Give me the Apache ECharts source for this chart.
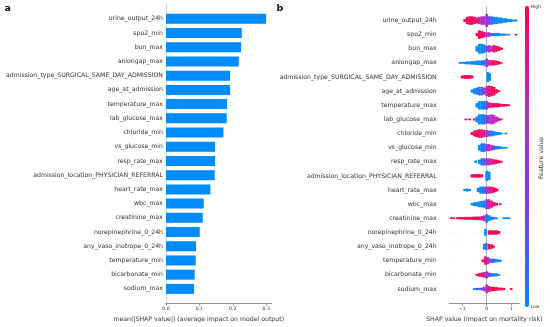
<!DOCTYPE html>
<html>
<head>
<meta charset="utf-8">
<script src="https://cdn.jsdelivr.net/npm/echarts@6/dist/echarts.min.js"></script>
<style>
html,body{margin:0;padding:0;background:#fff;}
#chart{width:550px;height:327px;}
</style>
</head>
<body>
<div id="chart"></div>
<script>
// ---------- data ----------
const features = [
  'urine_output_24h','spo2_min','bun_max','aniongap_max',
  'admission_type_SURGICAL_SAME_DAY_ADMISSION','age_at_admission','temperature_max',
  'lab_glucose_max','chloride_min','vs_glucose_min','resp_rate_max',
  'admission_location_PHYSICIAN_REFERRAL','heart_rate_max','wbc_max','creatinine_max',
  'norepinephrine_0_24h','any_vaso_inotrope_0_24h','temperature_min','bicarbonate_min','sodium_max'
];
const meanAbsShap = [0.300,0.227,0.225,0.218,0.192,0.192,0.183,0.182,0.172,0.147,0.147,0.146,0.133,0.113,0.110,0.101,0.090,0.089,0.086,0.084];
const barTicks = [0.0, 0.1, 0.2, 0.3];
const shapTicks = [-1, 0, 1];
// beeswarm bins per feature: [SHAP value, point density, feature value (0 low .. 1 high)]
const swarmBins = [
  [[-0.9,2,1],[-0.8,5,1],[-0.7,6,1],[-0.6,6,1],[-0.5,5,0.95],[-0.4,4,0.9],[-0.3,5,0.8],[-0.2,6,0.7],[-0.1,6,0.6],[0.0,9,0.5],[0.1,6,0.35],[0.2,6,0.15],[0.3,5,0.05],[0.4,5,0],[0.5,4,0],[0.6,4,0],[0.7,3,0],[0.8,3,0],[0.9,2,0],[1.0,2,0],[1.1,1,0],[1.2,1,0]],
  [[-0.4,2,1],[-0.3,6,1],[-0.2,5,0.95],[-0.1,4,0.9],[0.0,3,0.7],[0.1,3,0.4],[0.2,2,0.2],[0.3,2,0.1],[0.4,2,0],[0.5,2,0],[0.6,1.5,0],[0.7,1.5,0.2],[0.8,1,0],[0.9,1,0],[1.2,0.8,1]],
  [[-0.4,4,0],[-0.3,7,0],[-0.2,7,0],[-0.1,6,0.05],[0.0,4,0.4],[0.1,5,0.6],[0.2,4,0.7],[0.3,5,0.9],[0.4,4,1],[0.5,3,1],[0.6,1.5,1]],
  [[-1.1,1,0],[-1.0,1,0],[-0.9,1.5,0],[-0.8,2,0],[-0.7,2,0],[-0.6,2.5,0],[-0.5,2.5,0],[-0.4,3,0],[-0.3,3,0],[-0.2,3.5,0.05],[-0.1,4,0.1],[0.0,6,0.5],[0.1,4,0.75],[0.2,4,0.9],[0.3,3.5,1],[0.4,3,1],[0.5,2,1],[0.6,1,1]],
  [[-1.0,2,1],[-0.9,2.5,1],[-0.8,2.5,1],[-0.7,2.5,1],[-0.6,2,1],[0.05,7,0],[0.12,5,0]],
  [[-0.6,2,0],[-0.5,4,0],[-0.4,5,0.05],[-0.3,6,0.1],[-0.2,6,0.2],[-0.1,5,0.4],[0.0,7,0.7],[0.1,8,0.9],[0.2,7,0.95],[0.3,6,1],[0.4,3,1],[0.5,1,1]],
  [[-0.4,3,0],[-0.3,6,0],[-0.2,6,0],[-0.1,6,0.1],[0.0,6,0.4],[0.1,4,0.8],[0.2,3.5,0.9],[0.3,3,1],[0.4,3,1],[0.5,2.5,1],[0.6,2,1],[0.7,2,1],[0.8,1.5,1],[0.9,1,1]],
  [[-0.85,1,1],[-0.7,1,1],[-0.5,1.5,0.5],[-0.4,4,0.1],[-0.3,7,0],[-0.2,7,0],[-0.1,7,0.1],[0.0,6,0.4],[0.1,6,0.55],[0.2,7,0.6],[0.3,6,0.7],[0.4,4,0.75],[0.5,2,0.8],[0.6,1,0.8]],
  [[-0.6,2,1],[-0.5,4,1],[-0.4,5,1],[-0.3,6,0.95],[-0.2,6,0.9],[-0.1,5,0.8],[0.0,5,0.55],[0.1,4,0.3],[0.2,4,0.1],[0.3,3,0],[0.4,2.5,0],[0.5,2,0],[0.6,1,0],[0.78,0.8,0]],
  [[-0.3,4,0],[-0.2,6,0.05],[-0.1,6,0.1],[0.0,5,0.5],[0.1,5,0.7],[0.2,4,0.6],[0.3,3,0.3],[0.4,2.5,0.1],[0.5,2,0],[0.6,1.5,0],[0.7,1,0],[0.8,0.8,0]],
  [[-0.45,1.5,0],[-0.3,3,0],[-0.2,5,0.1],[-0.1,5,0.2],[0.0,5,0.5],[0.1,5,0.7],[0.2,4,0.8],[0.3,3.5,0.9],[0.4,3,1],[0.5,2,1],[0.6,1,1]],
  [[-0.6,2,1],[-0.5,2.5,1],[-0.4,2.5,1],[-0.3,2.5,1],[-0.2,2,1],[0.0,7,0],[0.1,6,0]],
  [[-0.9,1.5,0],[-0.8,2,0],[-0.7,1.5,0],[-0.35,3,0],[-0.25,5,0],[-0.15,5,0.05],[-0.05,5,0.3],[0.05,5,0.7],[0.15,5,0.85],[0.25,4,0.95],[0.35,3,1],[0.42,1.5,1]],
  [[-0.6,1.5,0],[-0.5,2.5,0],[-0.4,3,0],[-0.3,4,0],[-0.2,4.5,0],[-0.1,5,0.1],[0.0,7,0.5],[0.1,7,0.75],[0.2,5,0.85],[0.3,3,0.9],[0.4,2,1],[0.55,1,1]],
  [[-1.45,1,1],[-1.35,1,1],[-1.2,1,1],[-1.1,1.5,1],[-1.0,1.5,1],[-0.9,2,1],[-0.8,2,1],[-0.7,2,1],[-0.6,2,1],[-0.5,2.5,1],[-0.4,2.5,0.95],[-0.3,2.5,0.9],[-0.2,3,0.8],[-0.1,4,0.5],[0.0,6,0.1],[0.1,4,0],[0.2,2.5,0],[0.3,1.5,0.1],[0.4,1,0],[0.7,1,0],[0.8,1,0],[0.9,1,0]],
  [[-0.05,5,0],[0.1,3,1],[0.2,3,1],[0.3,3,1],[0.4,3,1],[0.5,2,1]],
  [[-0.1,4,0],[-0.02,5,0.1],[0.1,4,1],[0.2,3,1],[0.28,1.5,1]],
  [[-0.15,2,1],[-0.05,6,0.9],[0.05,5,0.6],[0.15,3,0.4],[0.25,3,0.2],[0.35,2.5,0.05],[0.45,2,0],[0.55,1.5,0]],
  [[-0.4,1.5,1],[-0.3,2.5,1],[-0.2,3,0.9],[-0.1,4,0.8],[0.0,5,0.5],[0.1,3,0.3],[0.2,2.5,0.15],[0.3,2,0],[0.4,2,0],[0.5,1,0]],
  [[-0.5,1,0],[-0.4,1.5,0.3],[-0.3,1.5,0],[-0.2,2,0.5],[-0.1,3,0.3],[0.0,6,0.6],[0.1,4,0.9],[0.2,3,1],[0.3,3,1],[0.4,2.5,1],[0.5,2,1],[0.6,2,1],[0.7,1.5,1],[1.0,1,1]]
];

// ---------- build ----------
const padded = [' '].concat(features, ['  ']);
const barData = ['-'].concat(meanAbsShap, ['-']);
const swarmData = [];
features.forEach((f, i) => swarmBins[i].forEach(b => swarmData.push([b[0], f, b[1], b[2]])));

const FONT = 'DejaVu Sans';
const txt = '#333333';
const axisGrey = '#777777';

const chart = echarts.init(document.getElementById('chart'), null, {renderer: 'canvas'});
chart.setOption({
  animation: false,
  textStyle: {fontFamily: FONT},
  grid: [
    {left: 166, top: 4.6, width: 105.5, height: 302},
    {left: 449.3, top: 6.35, width: 70, height: 301.3}
  ],
  xAxis: [
    {
      gridIndex: 0, type: 'value', min: 0, max: 0.316, interval: 0.1,
      axisLine: {show: true, lineStyle: {color: axisGrey, width: 0.8}},
      axisTick: {show: true, length: 2.5, lineStyle: {color: axisGrey, width: 0.8}},
      axisLabel: {fontSize: 4.6, color: txt, margin: 3, formatter: v => v.toFixed(1)},
      splitLine: {show: false},
      name: 'mean(|SHAP value|) (average impact on model output)',
      nameLocation: 'middle', nameGap: 9,
      nameTextStyle: {fontSize: 6.2, color: txt, padding: [0, 40, 0, 0]}
    },
    {
      gridIndex: 1, type: 'value', min: -1.527, max: 1.33,
      axisLine: {show: true, lineStyle: {color: axisGrey, width: 0.8}},
      axisTick: {show: true, length: 2.5, customValues: shapTicks, lineStyle: {color: axisGrey, width: 0.8}},
      axisLabel: {fontSize: 4.6, color: txt, margin: 3, customValues: shapTicks,
        formatter: v => v < 0 ? '\u2212' + Math.abs(v) : String(v)},
      splitLine: {show: false},
      name: 'SHAP value (impact on mortality risk)',
      nameLocation: 'middle', nameGap: 9,
      nameTextStyle: {fontSize: 6.2, color: txt}
    }
  ],
  yAxis: [
    {
      gridIndex: 0, type: 'category', data: padded, inverse: true, boundaryGap: false,
      axisLine: {show: true, lineStyle: {color: '#cccccc', width: 0.8}},
      axisTick: {show: false},
      axisLabel: {fontSize: 6.2, color: txt, margin: 3, interval: 0},
      splitLine: {show: false}
    },
    {
      gridIndex: 1, type: 'category', data: padded, inverse: true, boundaryGap: false,
      axisLine: {show: false},
      axisTick: {show: false},
      axisLabel: {fontSize: 6.2, color: txt, margin: 12.6, interval: 0},
      splitLine: {show: true, interval: (i) => i > 0 && i < padded.length - 1,
        lineStyle: {color: '#cccccc', width: 0.5, type: [1, 5]}}
    }
  ],
  visualMap: {
    type: 'continuous', seriesIndex: 1, dimension: 3, min: 0, max: 1,
    show: true, calculable: false, orient: 'vertical',
    left: 525, top: 6, itemWidth: 4, itemHeight: 301, padding: 0, text: null,
    inRange: {color: ['#008bfb', '#7a3de8', '#b92bc4', '#ff0052']}
  },
  series: [
    {
      type: 'bar', xAxisIndex: 0, yAxisIndex: 0, data: barData, barWidth: 10,
      itemStyle: {color: '#008bfb'}, silent: true
    },
    {
      type: 'custom', xAxisIndex: 1, yAxisIndex: 1, data: swarmData,
      dimensions: ['shap', 'feature', 'density', 'featureValue'],
      encode: {x: 0, y: 1},
      renderItem: function (params, api) {
        const c = api.coord([api.value(0), api.value(1)]);
        const w = api.size([0.1, 0])[0];
        const d = api.value(2);
        const n = Math.max(1, Math.round(d));
        const h = Math.max(1.4, d * 1.4);
        const step = n > 1 ? (h - 1.6) / (n - 1) : 0;
        const color = api.visual('color');
        const children = [];
        for (let k = 0; k < n; k++) {
          const dy = (k - (n - 1) / 2) * step;
          const dx = (k % 2 === 0 ? -1 : 1) * w * 0.22;
          children.push({type: 'circle', shape: {cx: c[0] + dx, cy: c[1] + dy, r: 0.95}, style: {fill: color}});
          children.push({type: 'circle', shape: {cx: c[0] - dx, cy: c[1] + dy, r: 0.95}, style: {fill: color}});
        }
        return {type: 'group', children: children};
      },
      markLine: {
        silent: true, symbol: 'none', label: {show: false},
        lineStyle: {color: '#999999', width: 0.8, type: 'solid'},
        data: [{xAxis: 0}], z: 1
      },
      z: 3
    }
  ],
  graphic: [
    {type: 'text', left: 4.5, top: 3.5, style: {text: 'a', font: 'bold 9.5px "DejaVu Sans"', fill: '#111'}},
    {type: 'text', left: 276.5, top: 3.5, style: {text: 'b', font: 'bold 9.5px "DejaVu Sans"', fill: '#111'}},
    {type: 'text', left: 530.5, top: 4, style: {text: 'High', font: '4.6px "DejaVu Sans"', fill: txt}},
    {type: 'text', left: 530.5, top: 304, style: {text: 'Low', font: '4.6px "DejaVu Sans"', fill: txt}},
    {type: 'text', x: 541, y: 158, rotation: Math.PI / 2,
      style: {text: 'Feature value', font: '6.2px "DejaVu Sans"', fill: txt, align: 'center', verticalAlign: 'middle'}}
  ]
});
</script>
</body>
</html>
